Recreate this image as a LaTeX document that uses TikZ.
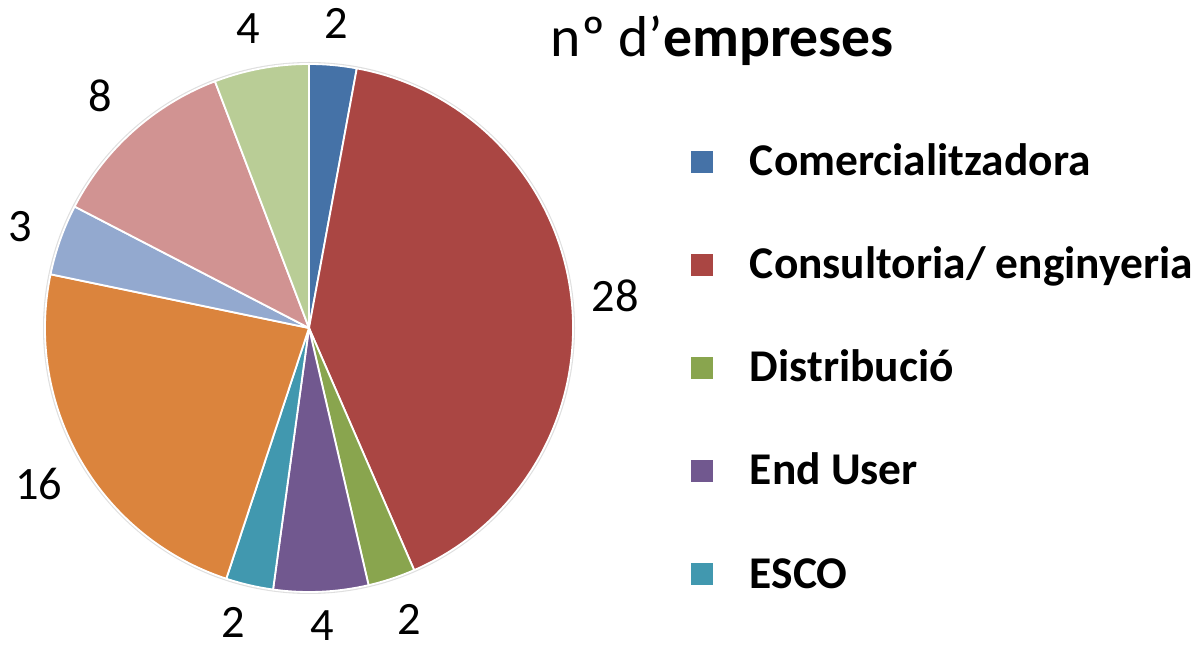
\documentclass[tikz,border=0pt]{standalone}
\usepackage{fontspec}
\setmainfont{Carlito}
\usepackage{tikz}
\usepackage{color}

\definecolor{comblue}{HTML}{4572A7}
\definecolor{conred}{HTML}{AA4643}
\definecolor{disgreen}{HTML}{89A54E}
\definecolor{endpurple}{HTML}{71588F}
\definecolor{escoteal}{HTML}{4198AF}
\definecolor{slorange}{HTML}{DB843D}
\definecolor{sllightblue}{HTML}{93A9CF}
\definecolor{slpink}{HTML}{D19392}
\definecolor{sllightgreen}{HTML}{B9CD96}

\tikzset{
  slice/.style={draw=white, line width=1.3pt, line join=round},
  numlbl/.style={font=\fontsize{33}{40}\selectfont},
  legtxt/.style={font=\fontsize{32.3}{39}\selectfont\bfseries, anchor=base west},
  legbox/.style={minimum size=22*0.025cm, inner sep=0pt}
}

\begin{document}
\begin{tikzpicture} [x=0.025cm, y=0.025cm]
\useasboundingbox (0,0) rectangle (1197,652);
% pie
\coordinate (c) at (309,324);
\fill[gray!25] (c) circle (266);
\filldraw[slice, fill=comblue] (c) -- ++(90:264) arc (90:79.565:264) -- cycle;
\filldraw[slice, fill=conred] (c) -- ++(79.565:264) arc (79.565:-66.522:264) -- cycle;
\filldraw[slice, fill=disgreen] (c) -- ++(-66.522:264) arc (-66.522:-76.957:264) -- cycle;
\filldraw[slice, fill=endpurple] (c) -- ++(-76.957:264) arc (-76.957:-97.826:264) -- cycle;
\filldraw[slice, fill=escoteal] (c) -- ++(-97.826:264) arc (-97.826:-108.261:264) -- cycle;
\filldraw[slice, fill=slorange] (c) -- ++(-108.261:264) arc (-108.261:-191.739:264) -- cycle;
\filldraw[slice, fill=sllightblue] (c) -- ++(-191.739:264) arc (-191.739:-207.391:264) -- cycle;
\filldraw[slice, fill=slpink] (c) -- ++(-207.391:264) arc (-207.391:-249.130:264) -- cycle;
\filldraw[slice, fill=sllightgreen] (c) -- ++(-249.130:264) arc (-249.130:-270:264) -- cycle;
% values
\path (c) ++(84.8:306) node[numlbl] (vcom) {2};
\path (c) ++(6.0:308) node[numlbl] (vcon) {28};
\path (c) ++(-71.0:308) node[numlbl] (vdis) {2};
\path (c) ++(-87.4:298) node[numlbl] (vend) {4};
\path (c) ++(-104.5:304) node[numlbl] (vesco) {2};
\path (c) ++(-150.0:312) node[numlbl] (vor) {16};
\path (c) ++(160.6:306) node[numlbl] (vlb) {3};
\path (c) ++(132.0:312) node[numlbl] (vpk) {8};
\path (c) ++(101.5:306) node[numlbl] (vlg) {4};
% legend
\node[anchor=base west, font=\fontsize{41}{49}\selectfont] (title) at (546,595) {nº d’\textbf{empreses}};
\node[legbox, fill=comblue] (bcom) at (702,490) {};
\node[legtxt] (tcom) at (745,476) {Comercialitzadora};
\node[legbox, fill=conred] (bcon) at (702,387) {};
\node[legtxt] (tcon) at (745,373) {Consultoria/ enginyeria};
\node[legbox, fill=disgreen] (bdis) at (702,284) {};
\node[legtxt] (tdis) at (745,270) {Distribució};
\node[legbox, fill=endpurple] (bend) at (702,181) {};
\node[legtxt] (tend) at (745,167) {End User};
\node[legbox, fill=escoteal] (besco) at (702,78) {};
\node[legtxt] (tesco) at (745,64) {ESCO};

\end{tikzpicture}
\end{document}
